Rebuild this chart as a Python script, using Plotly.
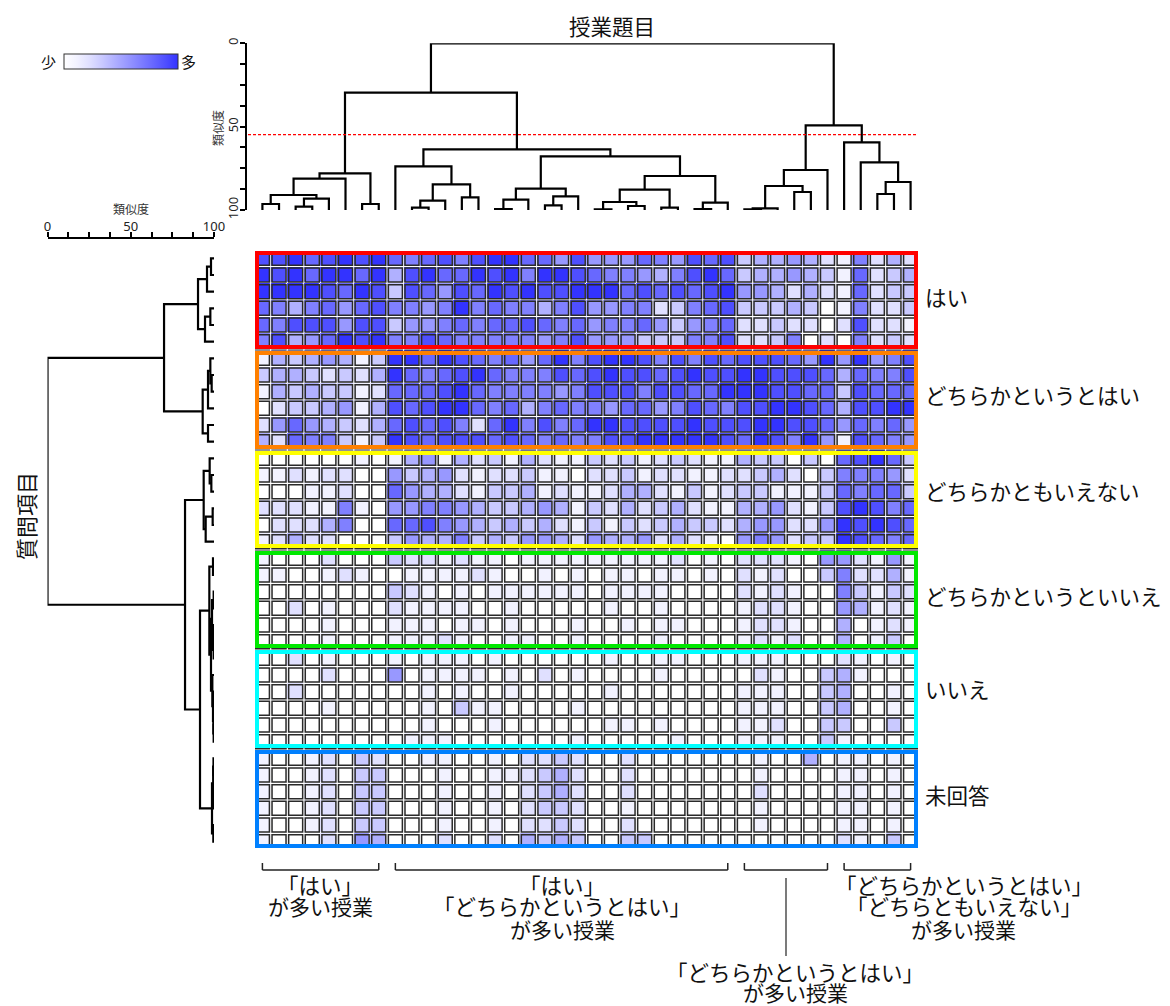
import plotly.graph_objects as go

W, H = 1170, 1006
N_COLS = 40

# ---- data: response level (0-9) per question (row) and lesson (column)
yes_rows = [
    [8,8,9,7,8,9,8,9,7,6,7,8,6,8,9,9,7,7,5,8, 5,5,5,7,6,5,8,7,8,3,4,4,5,4,2,1,6,2,4,2],
    [9,8,9,7,9,9,7,9,4,8,9,7,7,9,8,9,6,9,9,8, 7,6,6,5,4,6,8,9,7,3,4,4,5,4,3,1,7,2,3,4],
    [9,9,9,9,8,7,9,8,3,8,7,5,8,7,9,8,9,8,8,9, 9,9,7,8,7,8,7,8,9,5,5,4,2,4,2,1,7,2,3,3],
    [7,6,4,6,7,5,7,8,6,6,5,6,9,6,7,6,6,4,6,8, 5,5,6,6,2,3,6,7,8,3,3,3,4,3,0,1,6,2,2,3],
    [7,6,8,8,8,5,8,8,3,5,5,6,7,6,7,7,8,7,6,7, 5,6,6,7,5,3,5,6,7,2,2,3,2,2,0,2,8,2,2,1],
    [6,8,4,5,7,9,8,9,6,6,8,7,6,6,6,6,6,5,6,8, 5,5,5,3,3,3,6,6,8,2,2,3,6,0,2,0,6,2,3,2],
]
rather_yes_rows = [
    [1,4,3,4,5,4,1,3,9,9,7,9,8,7,6,7,5,7,9,6, 8,9,9,8,6,8,6,8,7,8,8,8,7,5,9,5,9,5,6,8],
    [3,4,4,3,2,3,2,4,9,7,6,7,8,9,7,6,6,6,8,7, 8,9,8,8,7,8,9,8,8,9,9,8,8,8,7,4,7,6,6,8],
    [1,4,3,4,3,3,1,2,7,7,7,8,9,7,6,6,6,6,5,6, 8,8,8,6,8,8,7,7,9,9,9,8,8,7,7,3,8,7,7,7],
    [0,2,3,3,4,5,1,4,8,7,8,9,9,7,6,7,4,6,7,6, 6,5,7,7,5,6,8,7,6,8,8,9,9,8,7,4,8,8,9,9],
    [2,5,7,5,4,3,2,4,7,8,7,8,6,2,7,9,6,8,6,7, 9,9,8,8,8,8,9,8,8,8,9,9,8,8,7,5,7,6,7,5],
    [4,2,7,6,6,3,1,3,9,8,7,8,8,8,7,8,7,6,7,6, 6,8,8,9,9,9,9,9,8,7,9,8,6,9,5,1,8,7,6,5],
]
neither_rows = [
    [0,0,0,0,0,0,1,0,1,4,5,1,4,2,3,1,4,2,1,1, 3,2,3,1,2,3,2,1,1,4,3,3,0,3,0,7,8,9,7,3],
    [1,1,2,1,2,2,0,0,5,3,4,5,2,1,2,2,3,1,1,0, 2,2,3,1,2,2,1,1,2,2,3,4,2,0,3,6,6,6,5,2],
    [0,0,0,1,1,2,0,0,7,5,4,4,2,1,3,3,4,1,2,1, 1,2,4,4,2,1,3,1,2,3,3,1,1,1,3,7,6,7,7,3],
    [2,2,2,1,1,6,1,0,5,5,6,6,5,4,3,3,4,5,4,1, 3,2,4,2,3,4,2,1,1,4,4,5,2,1,3,8,9,8,6,7],
    [0,2,2,2,4,6,0,0,7,7,8,6,5,4,3,4,3,4,2,1, 3,1,3,2,3,4,3,3,2,4,5,5,2,2,5,9,8,9,8,7],
    [1,2,4,2,2,0,0,0,3,5,4,4,6,3,4,3,5,5,4,2, 5,4,4,5,2,4,2,1,0,5,6,5,2,3,3,9,8,7,6,7],
]
rather_no_rows = [
    [1,0,0,0,2,0,0,0,3,2,2,1,2,1,1,0,1,1,1,1, 1,1,1,1,1,2,0,1,0,2,2,2,1,0,5,5,2,1,5,1],
    [1,1,0,0,1,2,1,0,0,1,1,1,1,2,1,0,0,1,0,1, 0,1,1,0,1,1,0,1,0,2,1,2,0,0,3,6,2,2,4,1],
    [0,0,0,0,0,0,0,0,3,2,1,0,1,0,1,1,1,1,1,1, 0,1,1,1,1,0,0,0,0,2,1,2,1,0,0,6,3,1,3,2],
    [0,0,2,0,1,0,0,0,2,1,1,1,1,0,0,1,0,0,0,0, 0,1,0,0,1,0,0,0,0,1,2,2,1,0,0,5,4,1,2,1],
    [0,0,0,0,1,0,0,0,1,1,1,0,1,1,0,1,0,0,0,1, 0,0,1,0,1,1,0,0,0,1,2,2,1,0,0,4,0,1,2,1],
    [0,0,0,0,1,0,0,0,1,1,1,2,1,0,0,1,1,0,0,1, 0,0,0,0,1,0,0,0,0,1,2,1,2,0,0,4,0,1,3,0],
]
no_rows = [
    [0,0,2,0,1,0,0,0,1,0,1,1,1,0,1,0,0,0,0,0, 0,1,0,0,1,1,0,0,0,1,1,1,0,0,0,2,1,0,1,0],
    [0,0,0,0,2,0,0,0,5,0,1,1,1,1,0,1,0,2,0,1, 0,0,0,0,1,0,0,0,0,0,2,1,0,0,3,4,1,0,0,0],
    [0,0,2,0,0,0,0,0,0,0,1,0,1,0,0,1,0,0,0,0, 0,1,0,0,0,0,0,0,0,1,1,1,0,0,3,4,0,0,1,0],
    [0,0,0,0,1,0,0,0,0,0,1,0,3,1,1,0,0,0,0,1, 0,0,0,0,0,0,0,0,0,1,1,1,0,0,3,4,0,0,1,0],
    [0,0,0,0,0,0,0,0,0,0,1,0,0,0,1,0,0,0,0,0, 0,1,1,0,1,0,0,0,0,1,1,2,0,0,3,3,0,0,3,0],
    [0,0,0,0,0,0,0,0,0,1,1,1,0,0,0,0,0,0,0,1, 0,0,0,0,0,1,0,0,0,1,1,1,0,0,3,1,0,0,0,0],
]
blank_rows = [
    [1,0,0,1,2,0,3,2,0,0,1,1,0,0,1,0,2,2,3,2, 0,0,2,0,0,0,0,0,0,0,1,0,0,4,0,1,1,0,1,0],
    [1,0,0,1,2,0,3,3,0,0,0,1,0,0,1,1,2,3,4,2, 0,0,2,0,0,0,0,0,0,0,1,0,0,0,0,1,1,0,1,0],
    [1,0,0,1,2,0,3,3,0,0,0,1,0,0,1,0,2,3,4,2, 0,0,2,0,0,0,0,0,0,0,2,0,0,0,0,1,1,0,1,0],
    [1,0,0,1,2,0,3,3,0,0,0,1,0,0,1,0,2,3,3,2, 0,0,1,0,0,0,0,0,0,0,1,0,0,0,0,1,1,0,1,0],
    [1,0,0,1,2,0,3,3,0,0,0,1,0,0,1,0,2,2,3,2, 0,0,2,0,0,0,0,0,0,0,1,0,0,0,0,1,1,0,1,0],
    [1,0,0,0,2,0,5,4,0,0,0,2,0,0,2,0,4,3,4,3, 0,0,3,3,0,0,0,0,0,0,0,0,0,0,0,2,1,0,3,0],
]

# ---- data: dendrograms as nested merges (similarity, left child, right child); ints are leaves
top_left_a = (78, (81.2, (91, (96.4, 1, 2), (93.2, (98, 3, 4), 5)), 6), (96.4, 7, 8))
top_left_b = (73.8, 9, (84.6, (94.4, (98.6, 10, 11), 12), (92.4, 13, 14)))
top_left_c = (87.2, (93.8, (99.4, 15, 16), 17), (91.8, (97.2, 18, 19), 20))
top_left_d = (79.6, (87.8, (95.2, (99.6, 21, 22), (97.6, 23, 24)), (98.6, 25, 26)),
              (95.6, (99.4, 27, 28), 29))
top_right_a = (76, (85.6, (99, (99.6, 30, 31), 32), (89.2, 33, 34)), 35)
top_right_b = (59.4, 36, (71.4, 37, (83.2, (90.4, 38, 39), 40)))
top_tree = (0, (29.6, top_left_a, (63.6, top_left_b, (67.8, top_left_c, top_left_d))),
            (49.2, top_right_a, top_right_b))

side_a = (90.4, (95.8, (98.2, 1, 2), 3), (94.6, (97.8, 4, 5), 6))
side_b = (93.2, (96.4, (97.8, 7, (98.6, 8, 9)), 10), (96.4, 11, 12))
side_c = (93.8, (97.4, 13, (98.4, 14, 15)), (95, (99.2, 16, 17), 18))
side_d = (97.2, (99.4, 19, 20),
          (98.2, (98.8, (99.8, 21, 22), (99.4, 23, (99.8, 24, 25))),
           (99.0, 26, (99.4, 27, (99.6, 28, (99.8, 29, 30))))))
side_e = (98.8, (99.5, (99.7, 31, 32), (99.8, 33, 34)), (99.6, 35, 36))
side_tree = (0, (70, side_a, side_b), (82.6, side_c, (91.6, side_d, side_e)))

similarity_cut = 54.8
scale_ticks = [0, 12.5, 25, 37.5, 50, 62.5, 75, 87.5, 100]
scale_labels = ["0", "", "", "", "50", "", "", "", "100"]

row_labels = ["はい", "どちらかというとはい", "どちらかともいえない",
              "どちらかというといいえ", "いいえ", "未回答"]
brace_cols = [(1, 8), (9, 29), (30, 35), (36, 40)]

groups = [yes_rows, rather_yes_rows, neither_rows, rather_no_rows, no_rows, blank_rows]
z = [row for g in groups for row in g]
assert all(len(r) == N_COLS for r in z) and len(z) == 36

# ---- layout helpers
def px(x):
    return x / W

def py(y):
    return 1 - y / H

def dendro_paths(tree):
    """Return (leaf position list, similarity list) polylines for a nested merge tree."""
    pos, sim = [], []
    def walk(node):
        if isinstance(node, int):
            return node, 100
        h, a, b = node
        pa, ha = walk(a)
        pb, hb = walk(b)
        pos.extend([pa, pa, pb, pb, None])
        sim.extend([ha, h, h, hb, None])
        return (pa + pb) / 2, h
    walk(tree)
    return pos, sim

# full cell grid in pixels, and the window of it that is visible inside the coloured frames
CELL_L, CELL_R, CELL_T, CELL_B = 254.1, 918.9, 250.0, 850.0
VIEW_L, VIEW_R, VIEW_T, VIEW_B = 255.0, 918.0, 251.0, 848.0
cell_w = (CELL_R - CELL_L) / N_COLS
cell_h = (CELL_B - CELL_T) / len(z)
x_range = [0.5 + (VIEW_L - CELL_L) / cell_w, 0.5 + (VIEW_R - CELL_L) / cell_w]
y_range = [0.5 + (VIEW_B - CELL_T) / cell_h, 0.5 + (VIEW_T - CELL_T) / cell_h]

cols = list(range(1, N_COLS + 1))
rows = list(range(1, len(z) + 1))
levels = [[0, "#ffffff"], [1/9, "#f2f2ff"], [2/9, "#e0e0ff"], [3/9, "#c9c9ff"], [4/9, "#b0b0ff"],
          [5/9, "#9898ff"], [6/9, "#8080ff"], [7/9, "#6868ff"], [8/9, "#4f4fff"], [1, "#3333ff"]]

fig = go.Figure()

fig.add_trace(go.Heatmap(
    z=z, x=cols, y=rows, zmin=0, zmax=9, colorscale=levels, xgap=1.2, ygap=1.2,
    hoverinfo="skip",
    colorbar=dict(orientation="h", x=px(64), xanchor="left", y=py(54.3), yanchor="top",
                  lenmode="pixels", len=114, thicknessmode="pixels", thickness=15,
                  xpad=0, ypad=0, showticklabels=False, ticks="",
                  outlinecolor="#333333", outlinewidth=1),
))
fig.add_trace(go.Scatter(
    x=[c for _ in rows for c in cols], y=[r for r in rows for _ in cols],
    mode="markers", hoverinfo="skip", showlegend=False,
    marker=dict(symbol="square-open", size=14, color="#2a2a2a", line=dict(width=1.5, color="#2a2a2a")),
))

tx, ty = dendro_paths(top_tree)
fig.add_trace(go.Scatter(x=tx, y=ty, xaxis="x2", yaxis="y2", mode="lines", showlegend=False,
                         cliponaxis=False, hoverinfo="skip", line=dict(color="#000000", width=2.2)))
sy, sx = dendro_paths(side_tree)
fig.add_trace(go.Scatter(x=sx, y=sy, xaxis="x3", yaxis="y3", mode="lines", showlegend=False,
                         cliponaxis=False, hoverinfo="skip", line=dict(color="#000000", width=2.2)))

shapes = []
frames = [("#ff0000", 253, 347), ("#ff8000", 353, 447), ("#ffff00", 453, 546),
          ("#00e800", 553, 646), ("#00ffff", 652, 746), ("#0080ff", 752, 846)]
for color, top, bottom in frames:
    shapes.append(dict(type="rect", xref="paper", yref="paper", x0=px(257), x1=px(916),
                       y0=py(bottom), y1=py(top), line=dict(color=color, width=4),
                       fillcolor="rgba(0,0,0,0)"))
shapes.append(dict(type="line", xref="paper", yref="y2", x0=px(248), x1=px(916),
                   y0=similarity_cut, y1=similarity_cut,
                   line=dict(color="#ff0000", width=1.3, dash="3px,2px")))
for a, b in brace_cols:
    for x0, x1, y0, y1 in [(a, a, 863, 870), (a, b, 870, 870), (b, b, 863, 870)]:
        shapes.append(dict(type="line", xref="x", yref="paper", x0=x0, x1=x1,
                           y0=py(y0), y1=py(y1), line=dict(color="#222222", width=1.5)))
shapes.append(dict(type="line", xref="paper", yref="paper", x0=px(786), x1=px(786),
                   y0=py(878), y1=py(956), line=dict(color="#222222", width=1.2)))

JP = "Noto Sans CJK JP"
def note(text, x, y, size=22, anchor="center", angle=0, color="#111111"):
    return dict(text=text, x=px(x), y=py(y), xref="paper", yref="paper", showarrow=False,
                xanchor=anchor, yanchor="middle", textangle=angle,
                font=dict(family=JP, size=size, color=color), align="center")

ann = [
    note("授業題目", 612, 25, 21.5),
    note("少", 49, 61, 15),
    note("多", 188, 61, 15),
    note("類似度", 131, 209, 12, color="#333333"),
    note("類似度", 218, 128, 12, angle=-90, color="#333333"),
    note("質問項目", 25, 516, 22, angle=-90),
]
for label, y in zip(row_labels, [296, 394, 490, 595, 688, 794]):
    ann.append(note(label, 923, y, 21.5, anchor="left"))
ann += [
    note("「はい」", 320, 884, 21.5), note("が多い授業", 320, 906, 21),
    note("「はい」", 562, 884, 21.5), note("「どちらかというとはい」", 562, 905, 21.5),
    note("が多い授業", 562, 929, 21),
    note("「どちらかというとはい」", 795, 971, 21.5), note("が多い授業", 795, 992, 21),
    note("「どちらかというとはい」", 964, 884, 21.5), note("「どちらともいえない」", 964, 905, 21.5),
    note("が多い授業", 963, 929, 21),
]

tickfont = dict(family="Noto Sans", size=13, color="#222222")
hidden = dict(visible=False, showgrid=False, zeroline=False)
fig.update_layout(
    width=W, height=H, margin=dict(l=0, r=0, t=0, b=0, autoexpand=False), autosize=False,
    paper_bgcolor="#ffffff", plot_bgcolor="rgba(0,0,0,0)", showlegend=False,
    xaxis=dict(hidden, domain=[px(VIEW_L), px(VIEW_R)], range=x_range),
    yaxis=dict(hidden, domain=[py(VIEW_B), py(VIEW_T)], range=y_range),
    xaxis2=dict(hidden, domain=[px(VIEW_L), px(VIEW_R)], range=x_range, anchor="y2"),
    yaxis2=dict(domain=[py(210), py(43.3)], range=[100, 0], anchor="free", position=px(246),
                side="left", showgrid=False, zeroline=False, showline=True, linecolor="#000000",
                linewidth=2, ticks="outside", ticklen=5, tickwidth=1.6, tickcolor="#000000",
                tickmode="array", tickvals=scale_ticks, ticktext=scale_labels, tickangle=-90,
                tickfont=tickfont, ticklabelstandoff=-3),
    xaxis3=dict(domain=[px(47.5), px(214)], range=[0, 100], anchor="free", position=py(238.3),
                side="top", showgrid=False, zeroline=False, showline=True, linecolor="#000000",
                linewidth=2, ticks="outside", ticklen=5, tickwidth=1.6, tickcolor="#000000",
                tickmode="array", tickvals=scale_ticks, ticktext=scale_labels, tickangle=0,
                tickfont=tickfont, ticklabelstandoff=-4),
    yaxis3=dict(hidden, domain=[py(VIEW_B), py(VIEW_T)], range=y_range, anchor="x3"),
    shapes=shapes, annotations=ann,
)

fig.write_html("out.html", config={"displayModeBar": False},
               post_script="document.documentElement.style.margin='0';document.body.style.margin='0';document.body.style.overflow='hidden';")
